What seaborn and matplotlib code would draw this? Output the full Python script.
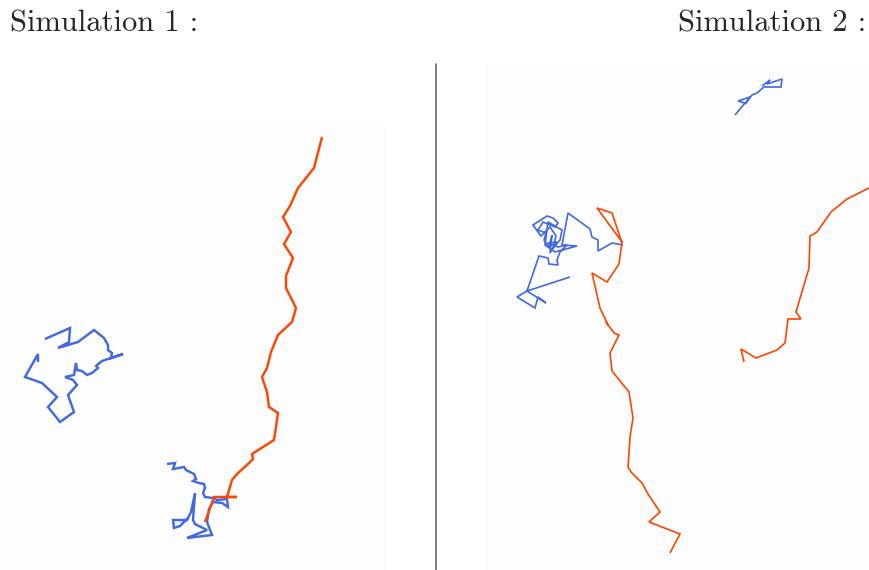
import matplotlib
matplotlib.use("Agg")
import matplotlib.pyplot as plt
from matplotlib.lines import Line2D
import pandas as pd
import seaborn as sns

# ---- data: walk coordinates (panel units, y upward) ----
# Simulation 1
sim1_orange_x = [322, 314, 298, 290, 283, 291, 284, 293, 286, 286, 296, 292, 278, 271, 267,
                 262, 267, 269, 278, 277, 274, 252, 253, 249, 237, 232, 227, 237, 214, 205]
sim1_orange_y = [433, 402, 382, 364, 353, 338, 326, 312, 294, 282, 262, 248, 235, 218, 202,
                 193, 178, 163, 157, 150, 130, 116, 111, 107, 96, 90, 73, 73, 73, 48]
sim1_blue_a_x = [45, 70, 69, 58, 78, 94, 104, 108, 108, 112, 111, 123, 102, 96, 98, 92, 87,
                 82, 77, 76, 74, 65, 73, 77, 68, 74, 60, 48, 57, 42, 25, 38, 38]
sim1_blue_a_y = [231, 242, 228, 222, 228, 240, 232, 225, 220, 217, 212, 216, 209, 204, 202,
                 197, 195, 199, 200, 207, 195, 193, 190, 185, 175, 158, 148, 163, 173, 187,
                 193, 216, 208]
sim1_blue_b_x = [167, 175, 173, 184, 186, 194, 196, 193, 199, 204, 205, 203, 205, 213, 217,
                 227, 228, 222, 213, 209, 207, 212, 187, 207, 195, 193, 195, 191, 187, 173,
                 174, 180, 188]
sim1_blue_b_y = [106, 107, 101, 103, 100, 96, 91, 89, 87, 86, 82, 77, 73, 72, 70, 71, 63,
                 67, 68, 61, 48, 35, 32, 40, 46, 50, 77, 58, 50, 50, 42, 44, 52]

# Simulation 2
sim2_orange_a_x = [137, 127, 112, 137, 134, 122, 107, 115, 123, 121, 129, 134, 125, 127, 144,
                   148, 145, 143, 146, 157, 163, 175, 164, 195, 185]
sim2_orange_a_y = [327, 357, 362, 328, 306, 288, 297, 262, 245, 248, 237, 235, 217, 199, 178,
                   152, 133, 103, 98, 87, 76, 58, 48, 36, 17]
sim2_orange_b_x = [384, 362, 346, 332, 325, 324, 311, 316, 303, 300, 292, 271, 256, 259]
sim2_orange_b_y = [382, 371, 358, 338, 334, 302, 258, 251, 251, 227, 220, 212, 221, 208]
sim2_blue_a_x = [250, 260, 253, 265, 260, 267, 272, 279, 296, 297, 282, 285, 277]
sim2_blue_a_y = [455, 467, 469, 473, 466, 475, 477, 483, 483, 491, 486, 490, 484]
sim2_blue_b_x = [85, 42, 32, 50, 53, 61, 42, 54, 63, 64, 73, 72, 75, 82, 73, 63, 72, 65, 67,
                 64, 59, 61, 53, 58, 70, 73, 68, 62, 48, 56, 65, 71, 68, 75, 77, 63, 60, 70,
                 92, 77, 83, 105, 107, 113, 113, 127, 138]
sim2_blue_b_y = [293, 279, 273, 262, 273, 267, 279, 314, 312, 306, 305, 310, 318, 325, 323,
                 327, 328, 317, 335, 323, 330, 337, 340, 348, 343, 347, 352, 354, 345, 334,
                 343, 334, 322, 330, 340, 348, 325, 318, 324, 325, 357, 341, 333, 330, 319,
                 327, 325]

titles = ["Simulation 1 :", "Simulation 2 :"]

BLUE = "#4169E1"
ORANGE = "#FF4500"
PANEL_BG = "#fdfdfd"


def frame(xs, ys, name):
    return pd.DataFrame({"x": xs, "y": ys, "walk": name, "order": range(len(xs))})


sns.set_style("white")

W, H = 869, 570
fig = plt.figure(figsize=(W / 100, H / 100), dpi=100)
fig.patch.set_facecolor("white")

ax1 = fig.add_axes([0, 0, 387 / W, (H - 125) / H])
ax2 = fig.add_axes([485 / W, 0, 384 / W, (H - 63) / H])

panels = [
    (ax1, [(sim1_blue_a_x, sim1_blue_a_y, BLUE), (sim1_blue_b_x, sim1_blue_b_y, BLUE),
           (sim1_orange_x, sim1_orange_y, ORANGE)], 1.75, 387, H - 125),
    (ax2, [(sim2_blue_a_x, sim2_blue_a_y, BLUE), (sim2_blue_b_x, sim2_blue_b_y, BLUE),
           (sim2_orange_a_x, sim2_orange_a_y, ORANGE), (sim2_orange_b_x, sim2_orange_b_y, ORANGE)],
     1.2, 384, H - 63),
]

for ax, walks, lw, w, h in panels:
    for i, (xs, ys, col) in enumerate(walks):
        d = frame(xs, ys, str(i))
        sns.lineplot(data=d, x="x", y="y", sort=False, estimator=None, color=col,
                     linewidth=lw, ax=ax, legend=False)
    ax.set_xlim(0, w)
    ax.set_ylim(0, h)
    ax.set_axis_off()
    for ln in ax.lines:
        ln.set_solid_joinstyle("miter")
        ln.set_solid_capstyle("butt")
    ax.add_patch(plt.Rectangle((0, 0), 1, 1, transform=ax.transAxes, facecolor=PANEL_BG,
                               edgecolor="none", zorder=0))

fig.add_artist(Line2D([436 / W, 436 / W], [0, (H - 64) / H], color="#555555", linewidth=1.1))

fig.text(10 / W, (H - 31) / H, titles[0], fontfamily="cmr10", fontsize=22,
         ha="left", va="baseline")
fig.text(866 / W, (H - 31) / H, titles[1], fontfamily="cmr10", fontsize=22,
         ha="right", va="baseline")

fig.savefig("out.png", dpi=100, facecolor="white")
